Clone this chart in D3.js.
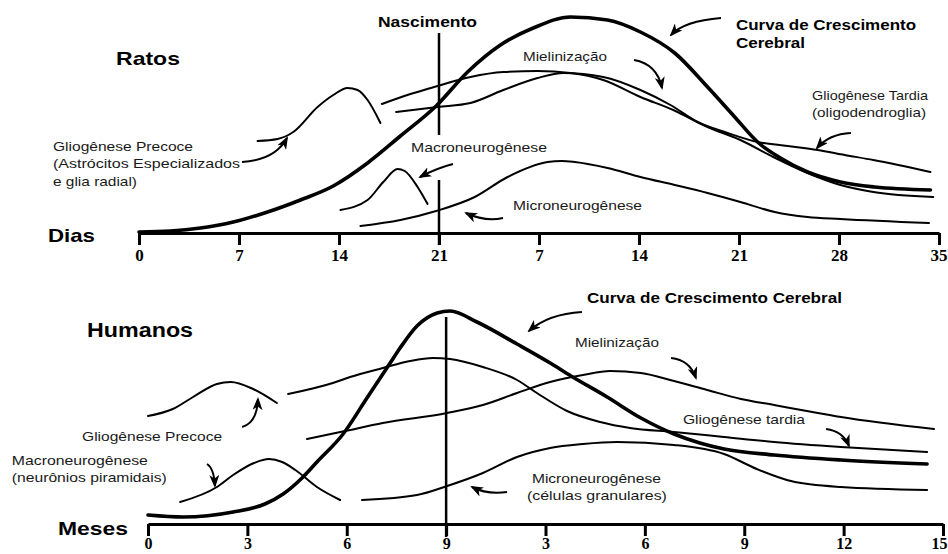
<!DOCTYPE html>
<html><head><meta charset="utf-8">
<script src="https://cdn.jsdelivr.net/npm/d3@7"></script>
<style>body{margin:0;background:#fff}svg{display:block;background:#fff}</style>
</head><body><svg id="c" width="948" height="554"></svg>
<script>
// ---------- DATA ----------
// Rats: timeline in days (0-21 gestation, then postnatal days 7..35 => 28..56)
const ratTicks = [0, 7, 14, 21, 28, 35, 42, 49, 56];
const ratTickLabels = ["0", "7", "14", "21", "7", "14", "21", "28", "35"];
const ratBirth = 21;
// [day, relative level]
const ratGrowth = [[0,1],[2.2,2],[4.3,5],[6.6,11],[9,21],[11.3,33],[13.6,47],[16,70],[18.3,97],[20.8,127],[23,161],[25.3,188],[27.6,205],[30.2,216],[32.8,213],[35.1,201],[37.5,180],[39.8,146],[41.7,116],[43.3,91],[44.9,75],[46.8,61],[49.1,51],[51.5,46],[55.4,43]];
const ratEarlyGlio = [[8.3,92],[9.7,94],[10.8,101],[12.5,126],[13.6,138],[14.6,145],[15.3,143],[16.0,133],[16.9,110]];
const ratMacro = [[14.1,23],[16.0,33],[17.1,51],[18.1,64],[18.6,62],[19.5,46],[20.2,29]];
const ratMicro = [[15.5,7],[18.3,13],[20.8,22],[23.5,36],[25.8,56],[28.6,71],[29.6,72],[30.5,71],[32.8,65],[35.1,56],[37.5,48],[39.8,40],[42.1,31],[44.5,21],[46.8,16],[49.1,14],[55.3,10]];
const ratMyelin = [[17.0,129],[19.0,139],[20.9,147],[23.2,156],[25.5,161],[27.9,162],[30.2,160],[32.5,153],[35.1,136],[37.4,123],[39.8,106],[42.1,93],[44.4,76],[46.8,60],[49.1,48],[51.4,41],[55.6,36]];
const ratLateGlio = [[18.0,121],[20.9,126],[23.2,130],[25.5,143],[27.9,155],[29.7,160],[32.5,156],[35.1,143],[37.2,128],[39.1,111],[41.2,100],[43.3,91],[45.4,87],[47.5,83],[49.4,78],[51.4,73],[55.4,61]];

// Humans: timeline in months (0-9 gestation, then postnatal months 3..15 => 12..24)
const humanTicks = [0, 3, 6, 9, 12, 15, 18, 21, 24];
const humanTickLabels = ["0", "3", "6", "9", "3", "6", "9", "12", "15"];
const humanBirth = 9;
const humanGrowth = [[0,9],[1.06,7],[2.57,12],[3.53,20],[4.08,30],[4.65,46],[5.10,62],[5.89,90],[6.61,126],[7.31,161],[7.61,176],[8.12,198],[8.73,211],[9.12,213],[9.93,202],[11.14,180],[12.14,161],[12.77,148],[13.86,127],[14.88,106],[15.88,90],[16.66,81],[17.39,75],[18.90,69],[20.92,64],[23.52,60]];
const humanEarlyGlio = [[0,108],[0.75,115],[1.36,127],[2.08,140],[2.5,142],[3.17,135],[3.89,121]];
const humanMacro = [[0.97,22],[2.08,37],[2.57,49],[3.2,61],[3.65,65],[4.05,62],[4.45,54],[5.10,37],[5.80,24]];
const humanLateGlio = [[4.23,130],[5.58,141],[6.10,147],[7.09,156],[7.91,163],[8.60,166],[9.12,165],[10.11,157],[11.14,144],[11.74,131],[12.65,113],[13.65,102],[14.55,96],[15.88,92],[17.39,87],[18.90,82],[20.92,77],[23.52,72]];
const humanMyelin = [[4.80,85],[5.95,93],[7.09,101],[9.03,111],[10.11,119],[11.14,131],[12.14,142],[13.13,149],[13.95,153],[14.88,151],[15.88,143],[16.88,134],[17.90,125],[18.90,119],[19.89,113],[20.92,107],[23.73,95]];
const humanMicro = [[6.46,24],[8.12,29],[9.03,38],[10.11,51],[11.14,67],[12.14,76],[13.13,80],[14.16,82],[15.88,79],[17.39,70],[18.38,55],[19.41,43],[20.92,37],[23.52,34]];

// ---------- ANNOTATIONS (in data units) ----------
const ratLabels = [
  {text:"Ratos", t:-1.61, v:168, w:64, size:19, bold:true},
  {text:"Nascimento", t:16.73, v:206, w:99, size:15, bold:true},
  {text:"Curva de Crescimento", t:41.79, v:203, w:180, size:14, bold:true},
  {text:"Cerebral", t:41.79, v:185, w:69, size:14, bold:true},
  {text:"Mielinização", t:26.88, v:172, w:84, size:13},
  {text:"Gliogênese Tardia", t:47.11, v:133, w:116, size:13},
  {text:"(oligodendroglia)", t:47.11, v:116, w:114, size:13},
  {text:"Macroneurogênese", t:19.04, v:81, w:136, size:13},
  {text:"Microneurogênese", t:26.18, v:23, w:129, size:13},
  {text:"Gliogênese Precoce", t:-6.02, v:82, w:140, size:13},
  {text:"(Astrócitos Especializados", t:-6.02, v:65, w:187, size:13},
  {text:"e glia radial)", t:-6.02, v:47, w:84, size:13},
  {text:"Dias", t:-6.37, v:-9, w:47, size:19, bold:true}
];
const humanLabels = [
  {text:"Humanos", t:-1.84, v:187, w:106, size:20, bold:true},
  {text:"Meses", t:-2.72, v:-11, w:70, size:19, bold:true},
  {text:"Curva de Crescimento Cerebral", t:13.25, v:221, w:255, size:14, bold:true},
  {text:"Mielinização", t:12.89, v:177, w:84, size:13},
  {text:"Gliogênese tardia", t:16.15, v:100, w:122, size:13},
  {text:"Microneurogênese", t:11.59, v:41, w:129, size:13},
  {text:"(células granulares)", t:11.44, v:24, w:140, size:13},
  {text:"Gliogênese Precoce", t:-1.99, v:83, w:140, size:13},
  {text:"Macroneurogênese", t:-4.11, v:59, w:136, size:13},
  {text:"(neurônios piramidais)", t:-4.11, v:42, w:155, size:13}
];
// arrows: [start, control, end]
const ratArrows = [
  [[7.21,71],[9.52,73],[10.36,95]],
  [[21.98,69],[20.86,65],[19.67,56]],
  [[25.48,15],[24.22,11],[22.89,20]],
  [[40.74,215],[38.15,212],[37.24,198]],
  [[34.65,173],[36.26,169],[36.61,145]],
  [[49.84,100],[48.3,99],[47.46,85]]
];
const humanArrows = [
  [[2.84,97],[3.29,101],[3.32,125]],
  [[1.78,60],[1.99,56],[2.02,38]],
  [[13.10,212],[12.08,210],[11.50,193]],
  [[15.79,166],[16.36,164],[16.54,146]],
  [[20.47,95],[20.98,93],[21.16,78]],
  [[10.84,32],[10.26,29],[9.78,37]]
];

// ---------- DRAW ----------
const svg = d3.select("#c");
const defs = svg.append("defs");
defs.append("marker").attr("id","ah").attr("viewBox","0 0 13 10")
  .attr("refX",11).attr("refY",5).attr("markerWidth",13).attr("markerHeight",10)
  .attr("markerUnits","userSpaceOnUse").attr("orient","auto")
  .append("path").attr("d","M0,0 L13,5 L0,10 L3.5,5 Z").attr("fill","#000");

function panel(cfg){
  const x = d3.scaleLinear().domain(cfg.xDomain).range(cfg.xRange);
  const y = d3.scaleLinear().domain([0,220]).range(cfg.yRange);
  const g = svg.append("g");
  const line = d3.line().x(d=>x(d[0])).y(d=>y(d[1])).curve(d3.curveMonotoneX);

  // axis
  const ax = d3.axisBottom(x).tickValues(cfg.ticks)
    .tickFormat((d,i)=>cfg.tickLabels[i]).tickSize(12).tickSizeOuter(0).tickPadding(cfg.tickPad);
  const ag = g.append("g").attr("transform",`translate(0,${y(0)})`).call(ax);
  ag.select(".domain").attr("stroke","#000").attr("stroke-width",3);
  ag.selectAll(".tick line").attr("stroke","#000").attr("stroke-width",3);
  const last = cfg.ticks.length - 1;
  ag.selectAll(".tick text").attr("fill","#000")
    .style("font-family","'Liberation Serif','Times New Roman',serif")
    .style("font-weight","bold").style("font-size",cfg.tickFont+"px")
    .attr("text-anchor",(d,i)=> i===last ? "end" : "middle")
    .attr("dx",(d,i)=> i===last ? (947 - x(d)) : 0);

  // birth line
  cfg.birthSegs.forEach(s=>{
    g.append("line").attr("x1",x(cfg.birth)).attr("x2",x(cfg.birth))
      .attr("y1",y(s[0])).attr("y2",y(s[1]))
      .attr("stroke","#000").attr("stroke-width",2.5);
  });

  // curves
  cfg.series.forEach(s=>{
    g.append("path").datum(s.data).attr("d",line)
      .attr("fill","none").attr("stroke","#000")
      .attr("stroke-width",s.thick?3.6:2).attr("stroke-linecap","round");
  });

  // arrows
  cfg.arrows.forEach(a=>{
    const p = a.map(d=>[x(d[0]),y(d[1])]);
    g.append("path").attr("d",`M${p[0]}Q${p[1]} ${p[2]}`)
      .attr("fill","none").attr("stroke","#000").attr("stroke-width",2)
      .attr("marker-end","url(#ah)");
  });

  // labels
  cfg.labels.forEach(l=>{
    g.append("text").attr("x",x(l.t)).attr("y",y(l.v)).text(l.text)
      .attr("textLength",l.w).attr("lengthAdjust","spacingAndGlyphs")
      .attr("fill", l.bold?"#000":"#1a1a1a")
      .style("font-family","'Liberation Sans',Arial,Helvetica,sans-serif")
      .style("font-weight", l.bold?"bold":"normal")
      .style("font-size", l.size+"px");
  });
}

panel({
  xDomain:[0,56], xRange:[139,939], yRange:[233,13],
  ticks:ratTicks, tickLabels:ratTickLabels, birth:ratBirth, tickPad:4, tickFont:17,
  birthSegs:[[200,98],[53,-12]],
  series:[
    {data:ratGrowth, thick:true},
    {data:ratEarlyGlio},{data:ratMacro},{data:ratMicro},
    {data:ratMyelin},{data:ratLateGlio}
  ],
  arrows:ratArrows, labels:ratLabels
});
panel({
  xDomain:[0,24], xRange:[148,943], yRange:[524,304],
  ticks:humanTicks, tickLabels:humanTickLabels, birth:humanBirth, tickPad:2, tickFont:16,
  birthSegs:[[207,-13]],
  series:[
    {data:humanGrowth, thick:true},
    {data:humanEarlyGlio},{data:humanMacro},{data:humanMicro},
    {data:humanMyelin},{data:humanLateGlio}
  ],
  arrows:humanArrows, labels:humanLabels
});
</script></body></html>
